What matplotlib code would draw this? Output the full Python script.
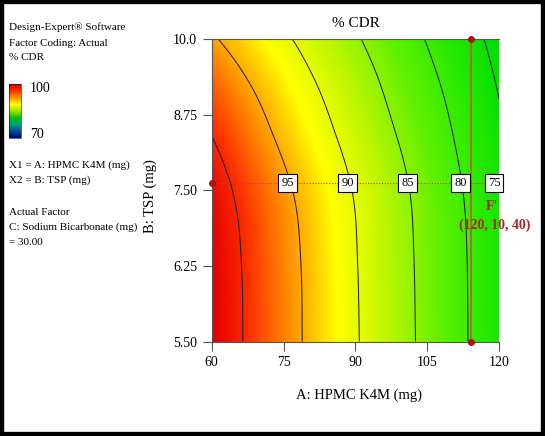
import numpy as np
import matplotlib
matplotlib.use("Agg")
from matplotlib import pyplot as plt
import matplotlib.tri as mtri
from matplotlib.colors import LinearSegmentedColormap, Normalize
from matplotlib.cm import ScalarMappable
from matplotlib.patches import Rectangle

plt.rcParams['font.family'] = ['Liberation Serif', 'DejaVu Serif']

# response surface (% CDR), rows = TSP, cols = HPMC K4M
hpmc = [60, 70, 80, 90, 100, 110, 120]
tsp = [5.0, 5.95, 6.75, 7.65, 8.4, 9.0, 10.0]
cdr = [
    [102.62, 98.59, 94.54, 90.34, 86.10, 81.61, 76.95],
    [102.57, 98.55, 94.49, 90.25, 86.02, 81.56, 76.92],
    [102.30, 98.35, 94.29, 90.10, 85.89, 81.44, 76.80],
    [101.50, 97.52, 93.56, 89.55, 85.42, 80.98, 76.33],
    [100.00, 96.13, 92.27, 88.45, 84.41, 80.17, 75.75],
    [98.50, 94.90, 91.20, 87.50, 83.48, 79.43, 75.00],
    [95.45, 92.24, 88.95, 85.45, 81.70, 77.80, 73.65],
]
levels = [75, 80, 85, 90, 95, 100]
label_levels = [95, 90, 85, 80, 75]
label_x = [75.8, 88.4, 100.9, 111.9, 118.9]   # where labels sit on the flag line

x_ticks = [60, 75, 90, 105, 120]
y_ticks = [5.0, 6.25, 7.5, 8.75, 10.0]
y_ticklabels = ['5.50', '6.25', '7.50', '8.75', '10.0']

flag_x = 114.0
flag_y = 7.62

# fill colours as seen in the plot
fill_cmap = LinearSegmentedColormap.from_list('de_fill', [
    (0.00, (0/255, 222/255, 0/255)),
    (0.15, (40/255, 234/255, 0/255)),
    (0.30, (95/255, 240/255, 0/255)),
    (0.43, (165/255, 244/255, 0/255)),
    (0.54, (222/255, 250/255, 0/255)),
    (0.63, (255/255, 255/255, 0/255)),
    (0.72, (255/255, 185/255, 0/255)),
    (0.81, (255/255, 115/255, 0/255)),
    (0.90, (250/255, 45/255, 0/255)),
    (1.00, (228/255, 0/255, 0/255)),
])
fill_norm = Normalize(vmin=74, vmax=102.5)

# legend bar colours (70 -> 100)
bar_cmap = LinearSegmentedColormap.from_list('de_bar', [
    '#00006e', '#004c9c', '#009c80', '#00c000', '#9ee000',
    '#ffff00', '#ff9000', '#ff3000', '#d40000'])

fig = plt.figure(figsize=(5.45, 4.36), dpi=100)
ax = fig.add_axes([0.3884, 0.2167, 0.5277, 0.6932])

# smooth the read grid with matplotlib's cubic tri refiner (unit square coords)
X, Y = np.meshgrid(hpmc, tsp)
Z = np.array(cdr)
x0, x1, y0, y1 = hpmc[0], hpmc[-1], tsp[0], tsp[-1]
tri = mtri.Triangulation(((X - x0) / (x1 - x0)).ravel(), ((Y - y0) / (y1 - y0)).ravel())
tri_fine, z_fine = mtri.UniformTriRefiner(tri).refine_field(Z.ravel(), subdiv=4)
tri_plot = mtri.Triangulation(x0 + tri_fine.x * (x1 - x0), y0 + tri_fine.y * (y1 - y0),
                              triangles=tri_fine.triangles)

ax.tripcolor(tri_plot, z_fine, shading='gouraud', cmap=fill_cmap, norm=fill_norm)
ax.tricontour(tri_plot, z_fine, levels=levels, colors='#1a1a1a', linewidths=0.7)

# flag lines
ax.axhline(flag_y, color='#c83c3c', lw=0.8, ls=(0, (1, 1.5)))
ax.axvline(flag_x, color='#b85c38', lw=1.2)
ax.plot([60, flag_x, flag_x], [flag_y, 10.0, 5.0], 'o', color='#b01010',
        ms=4, clip_on=False, zorder=5)

for lev, lx in zip(label_levels, label_x):
    ax.text(lx, flag_y, str(lev), fontsize=9, ha='center', va='center', zorder=6,
            bbox=dict(boxstyle='square,pad=0.25', fc='white', ec='black', lw=0.8))

ax.text(118.4, 7.23, "F'", color='#b22222', fontsize=10, fontweight='bold',
        ha='center', va='center')
ax.text(119.1, 6.93, "(120, 10, 40)", color='#b22222', fontsize=10,
        fontweight='bold', ha='center', va='center')

ax.set_xlim(60, 120)
ax.set_ylim(5.0, 10.0)
ax.set_xticks(x_ticks)
ax.set_yticks(y_ticks)
ax.set_yticklabels(y_ticklabels)
ax.tick_params(direction='out', length=6.5, width=0.8, color='#555555',
               labelsize=10, pad=4)
for side in ['left', 'bottom', 'top']:
    ax.spines[side].set_color('#555555')
    ax.spines[side].set_linewidth(0.8)
ax.spines['right'].set_visible(False)

ax.set_title('% CDR', fontsize=11, pad=9)
ax.set_xlabel('A: HPMC K4M (mg)', fontsize=10.5)
ax.xaxis.set_label_coords(0.512, -0.177)
ax.xaxis.label.set_verticalalignment('center')
ax.set_ylabel('B: TSP (mg)', fontsize=10.5)
ax.yaxis.set_label_coords(-0.2145, 0.482)
ax.yaxis.label.set_verticalalignment('center')

# left info panel
W, H = 545.0, 436.0
def info(px, py, s, size=8):
    fig.text(px / W, 1 - py / H, s, fontsize=size, ha='left', va='center')

info(9.3, 27, 'Design-Expert® Software')
info(9.3, 43, 'Factor Coding: Actual')
info(9.3, 58, '% CDR')
info(9.3, 165, 'X1 = A: HPMC K4M (mg)')
info(9.3, 180, 'X2 = B: TSP (mg)')
info(9.3, 212, 'Actual Factor')
info(9.3, 227, 'C: Sodium Bicarbonate (mg)')
info(9.3, 242, '= 30.00')
info(30, 88, '100', size=10)
info(30, 135, '70', size=10)

cax = fig.add_axes([9.3 / W, 1 - 138.3 / H, 12 / W, 54.3 / H])
cb = fig.colorbar(ScalarMappable(norm=Normalize(70, 100), cmap=bar_cmap), cax=cax)
cb.set_ticks([])
cb.outline.set_linewidth(0.4)

# black picture frame
fig.add_artist(Rectangle((0, 0), 1, 1, transform=fig.transFigure, fill=False,
                         edgecolor='black', linewidth=6))

fig.savefig('out.png', dpi=100)
print("Saved plot to out.png")
